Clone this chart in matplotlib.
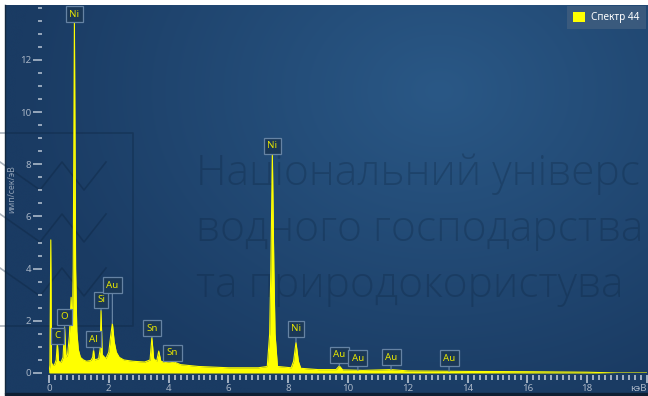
import numpy as np
import matplotlib.pyplot as plt
from matplotlib.patches import Rectangle
from matplotlib.ticker import MultipleLocator

plt.rcParams['font.family'] = ['Noto Sans', 'DejaVu Sans']

# EDS spectrum, counts per second per eV against energy in keV
energy_kev = [0.00, 0.03, 0.06, 0.08, 0.12, 0.18, 0.24, 0.28, 0.32, 0.40,
              0.47, 0.52, 0.57, 0.62, 0.68, 0.74, 0.78, 0.81, 0.85, 0.89,
              0.93, 0.98, 1.05, 1.15, 1.25, 1.40, 1.46, 1.49, 1.53, 1.66,
              1.71, 1.74, 1.78, 1.90, 2.00, 2.06, 2.12, 2.18, 2.25, 2.35,
              2.50, 2.80, 3.20, 3.38, 3.44, 3.50, 3.60, 3.67, 3.74, 3.90,
              4.13, 4.40, 5.00, 6.00, 7.00, 7.30, 7.38, 7.42, 7.47, 7.52,
              7.56, 7.64, 8.10, 8.18, 8.26, 8.34, 8.42, 9.00, 9.60, 9.71,
              9.82, 10.50, 11.44, 12.00, 14.00, 16.00, 18.00, 19.00, 20.00]
counts = [0.00, 0.30, 5.10, 0.40, 0.30, 0.30, 0.50, 1.15, 0.45, 0.40,
          0.60, 1.76, 0.60, 0.70, 1.40, 2.90, 1.60, 4.00, 13.45, 4.00,
          1.60, 0.90, 0.60, 0.50, 0.45, 0.48, 0.60, 0.88, 0.50, 0.55,
          0.90, 2.40, 0.70, 0.55, 0.80, 1.40, 1.90, 1.20, 0.80, 0.60,
          0.50, 0.45, 0.42, 0.50, 1.36, 0.55, 0.45, 0.84, 0.45, 0.40,
          0.45, 0.32, 0.25, 0.20, 0.20, 0.25, 1.50, 4.00, 8.40, 4.00,
          1.50, 0.25, 0.20, 0.45, 1.17, 0.45, 0.18, 0.13, 0.13, 0.27,
          0.12, 0.10, 0.13, 0.08, 0.06, 0.05, 0.03, 0.00, 0.00]

# identified lines: element, line energy, height of its label box
line_names = ['C', 'O', 'Ni', 'Al', 'Si', 'Au', 'Sn', 'Sn',
              'Ni', 'Ni', 'Au', 'Au', 'Au', 'Au']
line_kev = [0.28, 0.52, 0.85, 1.49, 1.74, 2.12, 3.44, 4.13,
            7.47, 8.26, 9.71, 10.33, 11.44, 13.38]
label_y = [1.42, 2.15, 13.75, 1.30, 2.80, 3.37, 1.72, 0.77,
           8.70, 1.69, 0.69, 0.57, 0.61, 0.57]

x_ticks = [0, 2, 4, 6, 8, 10, 12, 14, 16, 18, 20]
x_ticklabels = ['0', '2', '4', '6', '8', '10', '12', '14', '16', '18', 'кэВ']
y_ticks = [0, 2, 4, 6, 8, 10, 12]

W, H = 648, 396
fig = plt.figure(figsize=(W / 100, H / 100), dpi=100)
fig.patch.set_facecolor('white')

# background panel in pixel coordinates
bg = fig.add_axes([0, 0, 1, 1])
bg.set_xlim(0, W)
bg.set_ylim(H, 0)
bg.axis('off')

gy, gx = np.mgrid[0:120, 0:200]
px = gx / 199 * (W - 5) + 5
py = gy / 119 * (393 - 5) + 5
d = np.hypot((px - 440) / 420, (py - 90) / 330)
t = np.clip(d, 0, 1)[..., None]
c_in = np.array([0x2a, 0x58, 0x86]) / 255
c_out = np.array([0x1a, 0x3b, 0x63]) / 255
grad = c_in * (1 - t) + c_out * t
bg.imshow(grad, extent=(5, W, 393, 5), aspect='auto', zorder=0,
          interpolation='bicubic')
bg.add_patch(Rectangle((5, 393), W - 5, 3, color='#0e1f33', zorder=1))
bg.plot([5, 5], [5, 393], color='#14293f', lw=1, zorder=1)

# watermark: logo frame and text
wm = '#0b223c'
bg.plot([0, 133, 133, 0], [133, 133, 326, 326], color=wm, lw=1.2,
        alpha=0.35, zorder=2)
for top in (162, 214, 268):
    bot = top + 28
    bg.plot([0, 40, 62, 84, 106], [top, bot, top, bot, top], color=wm,
            lw=1.2, alpha=0.35, zorder=2)
for row, txt in enumerate(['Національний універс',
                           'водного господарства',
                           'та природокористува']):
    bg.text(196, 185 + row * 56, txt, fontsize=30.6, color=wm, alpha=0.28,
            family=['Open Sans', 'DejaVu Sans'], weight='light',
            ha='left', va='baseline', zorder=2)

# spectrum axes
ax = fig.add_axes([49 / W, (H - 373) / H, 598 / W, 368 / H])
ax.patch.set_alpha(0)
ax.set_xlim(0, 20)
ax.set_ylim(0, 14.1)

ax.fill_between(energy_kev, counts, color='#ffff00', lw=0, zorder=3,
                label='Спектр 44')
ax.plot(energy_kev, counts, color='#ffff00', lw=0.8, zorder=3)

for name, e, ly in zip(line_names, line_kev, label_y):
    peak = np.interp(e, energy_kev, counts)
    ax.annotate(name, xy=(e, peak), xytext=(e, ly), textcoords='data',
                ha='center', va='center', fontsize=7, color='#e6e600',
                bbox=dict(boxstyle='square,pad=0.35', fc='#1b3857',
                          ec='#6683a3', lw=0.9),
                arrowprops=dict(arrowstyle='-', color='#6683a3', lw=0.9,
                                shrinkA=0, shrinkB=0),
                zorder=5)

for side in ['top', 'right', 'left', 'bottom']:
    ax.spines[side].set_visible(False)
ax.spines['left'].set_position(('outward', 5))
ax.spines['bottom'].set_position(('outward', 1.5))

tick_c = '#b9c5d3'
lab_c = '#a7b4c5'
ax.set_xticks(x_ticks)
ax.set_xticklabels(x_ticklabels)
ax.get_xticklabels()[-1].set_horizontalalignment('right')
ax.xaxis.set_minor_locator(MultipleLocator(0.2))
ax.set_yticks(y_ticks)
ax.yaxis.set_minor_locator(MultipleLocator(0.5))
ax.tick_params(axis='x', which='major', length=5.5, width=1.2, color=tick_c,
               labelcolor=lab_c, labelsize=7, pad=1)
ax.tick_params(axis='x', which='minor', length=3.4, width=1.2, color=tick_c)
ax.tick_params(axis='y', which='major', length=6.5, width=1.1, color=tick_c,
               labelcolor=lab_c, labelsize=7, pad=1.5)
ax.tick_params(axis='y', which='minor', length=3, width=1.1, color=tick_c)

fig.text(12 / W, 1 - 189 / H, 'имп/сек/эВ', rotation=90, fontsize=6.3,
         color='#8e9fb4', ha='center', va='center')

leg = ax.legend(loc='upper right', bbox_to_anchor=(1.0, 1.0), fontsize=7.2,
                frameon=True, fancybox=False, handlelength=1.2,
                handleheight=1.2, borderpad=0.55, borderaxespad=0.1,
                labelcolor='white', handletextpad=0.6)
frame = leg.get_frame()
frame.set_facecolor('#3c5b7e')
frame.set_edgecolor('none')
frame.set_alpha(0.95)
leg._legend_box.set_width(68)
leg.set_zorder(6)

fig.savefig('out.png', dpi=100)
